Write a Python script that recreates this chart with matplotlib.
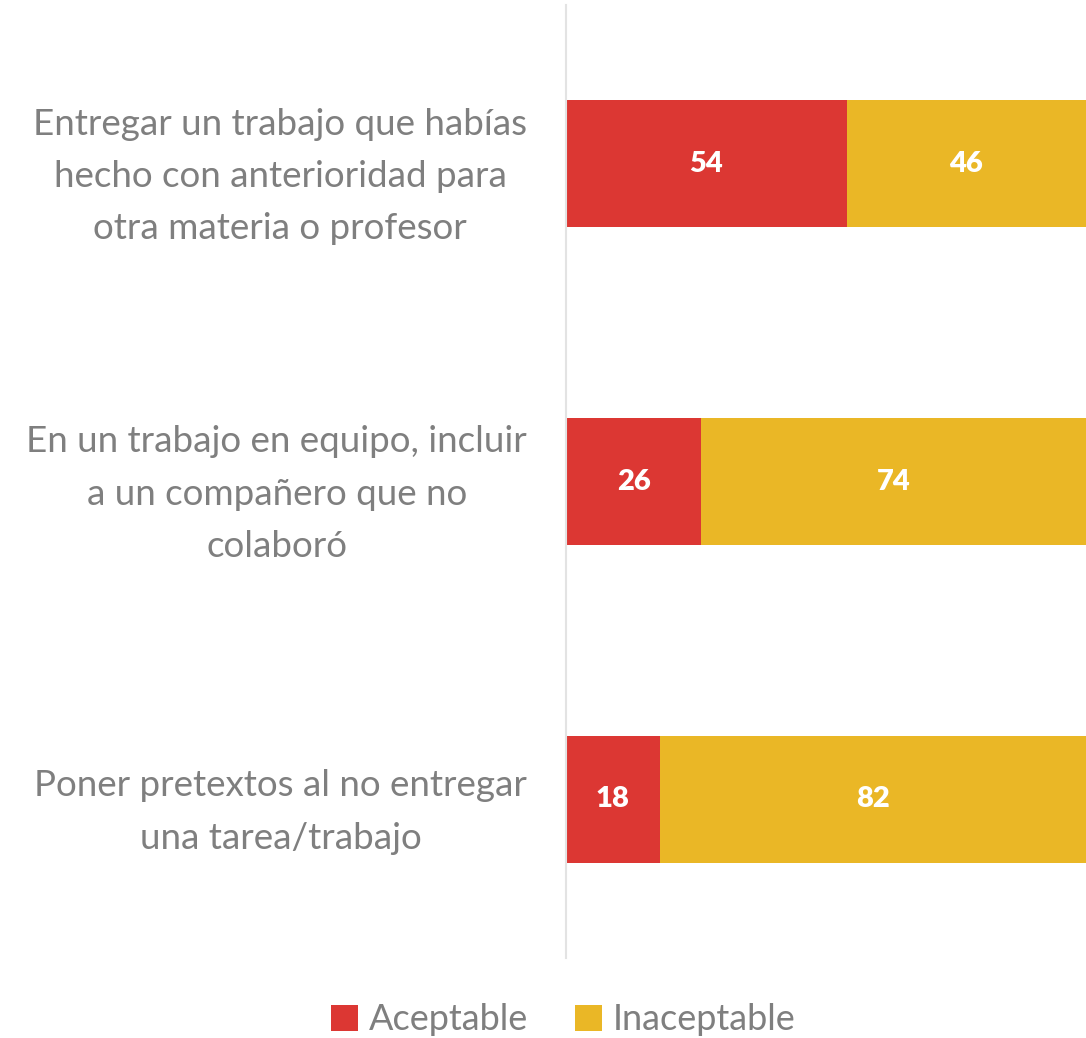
import matplotlib
matplotlib.use('Agg')
import matplotlib.pyplot as plt

plt.rcParams['font.family'] = ['Lato', 'DejaVu Sans']

categories = ['Entregar un trabajo que habías\nhecho con anterioridad para\notra materia o profesor',
              'En un trabajo en equipo, incluir\na un compañero que no\ncolaboró',
              'Poner pretextos al no entregar\nuna tarea/trabajo']
aceptable = [54, 26, 18]
inaceptable = [46, 74, 82]
series_names = ['Aceptable', 'Inaceptable']
colors = ['#DC3733', '#EAB726']

fig = plt.figure(figsize=(10.86, 10.38), dpi=100)
ax = fig.add_axes([566/1086, 1-958/1038, 1-566/1086, 953/1038])

y = list(range(len(categories)))
b1 = ax.barh(y, aceptable, height=0.4, color=colors[0], label=series_names[0])
b2 = ax.barh(y, inaceptable, left=aceptable, height=0.4, color=colors[1], label=series_names[1])

for bars in (b1, b2):
    ax.bar_label(bars, label_type='center', color='white', fontsize=21, fontweight='heavy')

ax.set_xlim(0, 100)
ax.set_ylim(len(categories)-0.5, -0.5)
ax.set_yticks(y)
ax.set_yticklabels(categories, fontsize=26.5, color='#7F7F7F', multialignment='center',
                   linespacing=1.72)
ax.tick_params(axis='y', length=0, pad=28)
ax.set_xticks([])
for s in ['top', 'right', 'bottom']:
    ax.spines[s].set_visible(False)
ax.spines['left'].set_color('#E3E3E3')
ax.spines['left'].set_linewidth(1.5)

leg = fig.legend(loc='center', bbox_to_anchor=(563/1086, 1-1020/1038), ncol=2, frameon=False,
                 fontsize=26, handlelength=0.75, handleheight=0.75, handletextpad=0.3,
                 columnspacing=1.3)
for t in leg.get_texts():
    t.set_color('#7F7F7F')

fig.savefig('out.png', dpi=100)
